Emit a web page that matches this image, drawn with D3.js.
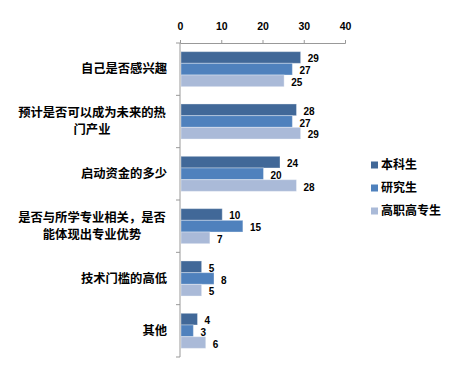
<!DOCTYPE html>
<html>
<head>
<meta charset="utf-8">
<script src="https://cdn.jsdelivr.net/npm/d3@7"></script>
<style>
  body { margin: 0; background: #fff; }
  text { font-family: "Noto Sans CJK SC", "Noto Sans", sans-serif; }
  text.num { font-family: "Liberation Sans", Arial, sans-serif; }
</style>
</head>
<body>
<div id="chart"></div>
<script>
// data
var categories = [
  ["自己是否感兴趣"],
  ["预计是否可以成为未来的热", "门产业"],
  ["启动资金的多少"],
  ["是否与所学专业相关，是否", "能体现出专业优势"],
  ["技术门槛的高低"],
  ["其他"]
];
var seriesNames = ["本科生", "研究生", "高职高专生"];
var undergrad = [29, 28, 24, 10, 5, 4];
var graduate = [27, 27, 20, 15, 8, 3];
var vocational = [25, 29, 28, 7, 5, 6];
var xTicks = [0, 10, 20, 30, 40];

var color = ["#416898", "#4F81BD", "#AABAD8"];

var width = 461, height = 375;
var margin = {top: 43, left: 180, right: 116, bottom: 18};

var svg = d3.select("#chart").append("svg")
    .attr("width", width)
    .attr("height", height);

var x = d3.scaleLinear()
    .domain([0, 40])
    .range([margin.left, width - margin.right]);

var y = d3.scaleBand()
    .domain(d3.range(categories.length))
    .range([margin.top, height - margin.bottom])
    .paddingInner(0.33)
    .paddingOuter(0.165);

var ySub = d3.scaleBand()
    .domain(d3.range(3))
    .range([0, y.bandwidth()]);

var series = [undergrad, graduate, vocational];

// bars
series.forEach(function(vals, s) {
  svg.selectAll(".bar" + s)
    .data(vals)
    .enter()
    .append("rect")
    .attr("class", "bar" + s)
    .attr("x", x(0) + 1)
    .attr("y", function(d, i) { return y(i) + ySub(s); })
    .attr("width", function(d) { return x(d) - x(0); })
    .attr("height", ySub.bandwidth())
    .attr("fill", color[s])
    .attr("stroke", "rgba(255,255,255,0.35)")
    .attr("stroke-width", 1);

  svg.selectAll(".val" + s)
    .data(vals)
    .enter()
    .append("text")
    .attr("class", "num val" + s)
    .attr("x", function(d) { return x(d) + 8; })
    .attr("y", function(d, i) { return y(i) + ySub(s) + ySub.bandwidth() / 2 + 1.5; })
    .attr("dy", "0.35em")
    .attr("font-size", 10)
    .attr("font-weight", "bold")
    .attr("fill", "#000")
    .text(function(d) { return d; });
});

// top axis
var xAxis = svg.append("g")
    .attr("transform", "translate(0," + margin.top + ")")
    .call(d3.axisTop(x).tickValues(xTicks).tickSize(3).tickPadding(10));
xAxis.selectAll("path, line").attr("stroke", "#999");
xAxis.selectAll("text")
    .attr("class", "num")
    .attr("font-size", 10.5)
    .attr("font-weight", "bold")
    .attr("fill", "#000");

// left axis line with category boundary ticks
var bounds = d3.range(categories.length + 1).map(function(i) {
  return margin.top + i * y.step();
});
svg.append("line")
    .attr("x1", x(0)).attr("x2", x(0))
    .attr("y1", margin.top).attr("y2", height - margin.bottom)
    .attr("stroke", "#999");
svg.selectAll(".ytick")
    .data(bounds)
    .enter()
    .append("line")
    .attr("x1", x(0) - 4).attr("x2", x(0))
    .attr("y1", function(d) { return d; })
    .attr("y2", function(d) { return d; })
    .attr("stroke", "#999");

// category labels
var cats = svg.selectAll(".cat")
    .data(categories)
    .enter()
    .append("text")
    .attr("class", "cat")
    .attr("font-size", 12.3)
    .attr("font-weight", "bold")
    .attr("fill", "#000")
    .attr("text-anchor", function(d) { return d.length > 1 ? "middle" : "end"; })
    .attr("transform", function(d, i) {
      var cy = y(i) + y.bandwidth() / 2;
      var tx = d.length > 1 ? 92 : 167;
      return "translate(" + tx + "," + (cy - (d.length - 1) * 8.5) + ")";
    });
cats.selectAll("tspan")
    .data(function(d) { return d; })
    .enter()
    .append("tspan")
    .attr("x", 0)
    .attr("dy", function(d, j) { return j === 0 ? "0.35em" : "17px"; })
    .text(function(d) { return d; });

// legend
var legend = svg.selectAll(".legend")
    .data(seriesNames)
    .enter()
    .append("g")
    .attr("class", "legend")
    .attr("transform", function(d, i) { return "translate(371," + (165 + i * 23) + ")"; });
legend.append("rect")
    .attr("x", 0).attr("y", -3.5)
    .attr("width", 7).attr("height", 7)
    .attr("fill", function(d, i) { return color[i]; });
legend.append("text")
    .attr("x", 10)
    .attr("dy", "0.35em")
    .attr("font-size", 12)
    .attr("font-weight", "bold")
    .attr("fill", "#000")
    .text(function(d) { return d; });
</script>
</body>
</html>
